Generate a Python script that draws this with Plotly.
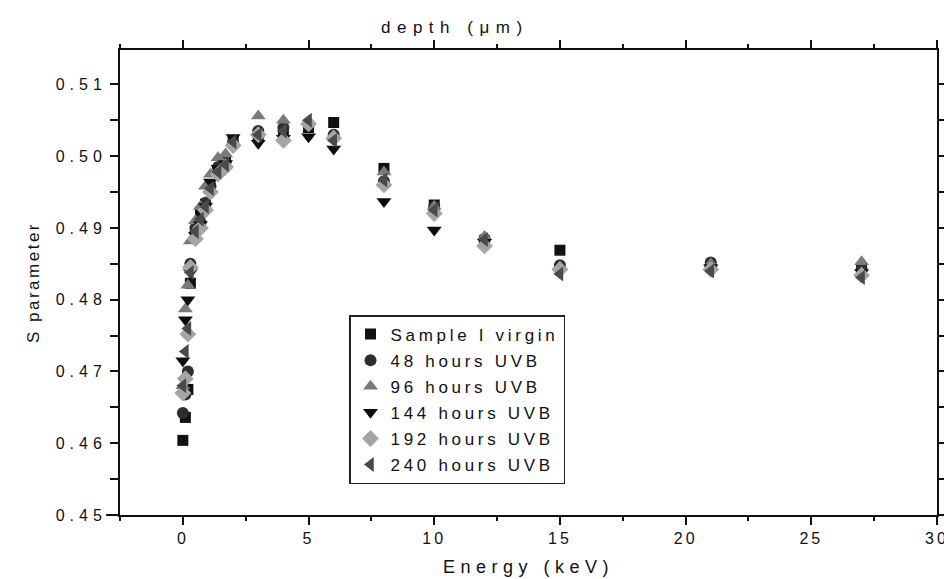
import plotly.graph_objects as go

energy = [0, 0.1, 0.2, 0.3, 0.5, 0.7, 0.9, 1.1, 1.4, 1.7, 2, 3, 4, 5, 6, 8, 10, 12, 15, 21, 27]

s_virgin = [0.4604, 0.4636, 0.4675, 0.4823, 0.4895, 0.4922, 0.4933, 0.4955, 0.4980, 0.4995, 0.5020,
            0.5030, 0.5034, 0.5040, 0.5047, 0.4983, 0.4932, 0.4882, 0.4869, 0.4846, 0.4841]
s_48h = [0.4642, 0.4668, 0.4700, 0.4850, 0.4900, 0.4908, 0.4935, 0.4958, 0.4985, 0.4992, 0.5018,
         0.5035, 0.5040, 0.5045, 0.5030, 0.4965, 0.4930, 0.4885, 0.4848, 0.4852, 0.4842]
s_96h = [0.4680, 0.4787, 0.4820, 0.4882, 0.4910, 0.4930, 0.4958, 0.4975, 0.4998, 0.5003, 0.5020,
         0.5056, 0.5050, 0.5048, 0.5028, 0.4978, 0.4930, 0.4888, 0.4846, 0.4850, 0.4853]
s_144h = [0.4715, 0.4772, 0.4800, 0.4838, 0.4890, 0.4905, 0.4930, 0.4964, 0.4983, 0.4990, 0.5026,
          0.5018, 0.5025, 0.5027, 0.5010, 0.4937, 0.4897, 0.4880, 0.4840, 0.4845, 0.4838]
s_192h = [0.4670, 0.4690, 0.4752, 0.4845, 0.4885, 0.4900, 0.4925, 0.4950, 0.4975, 0.4985, 0.5015,
          0.5030, 0.5022, 0.5045, 0.5025, 0.4960, 0.4920, 0.4875, 0.4842, 0.4842, 0.4834]
s_240h = [0.4680, 0.4728, 0.4760, 0.4838, 0.4895, 0.4912, 0.4930, 0.4955, 0.4978, 0.4988, 0.5020,
          0.5030, 0.5035, 0.5050, 0.5022, 0.4967, 0.4925, 0.4884, 0.4836, 0.4840, 0.4831]

series_names = ["Sample I virgin", "48 hours UVB", "96 hours UVB",
                "144 hours UVB", "192 hours UVB", "240 hours UVB"]
series_values = [s_virgin, s_48h, s_96h, s_144h, s_192h, s_240h]
symbols = ["square", "circle", "triangle-up", "triangle-down", "diamond", "triangle-left"]
colors = ["#111111", "#2e2e2e", "#7a7a7a", "#0d0d0d", "#a5a5a5", "#4a4a4a"]
sizes = [11, 12, 13, 13, 13, 13]

x_ticks = [0, 5, 10, 15, 20, 25, 30]
x_ticklabels = ["0", "5", "10", "15", "20", "25", "30"]
y_ticks = [0.45, 0.46, 0.47, 0.48, 0.49, 0.50, 0.51]
y_ticklabels = ["0.45", "0.46", "0.47", "0.48", "0.49", "0.50", "0.51"]

FONT = "Liberation Sans, Arial, sans-serif"


def spaced(text, px):
    return f'<span style="letter-spacing:{px}px">{text}</span>'


fig = go.Figure()
for name, vals, sym, col, sz in zip(series_names, series_values, symbols, colors, sizes):
    fig.add_trace(go.Scatter(
        x=energy, y=vals, mode="markers", name=spaced(name, 3.7), legendgroup=name,
        marker=dict(symbol=sym, color=col, size=sz, line=dict(width=0)),
    ))

xr = [-2.5, 30]
yr = [0.45, 0.5148]

fig.update_layout(
    width=944, height=571,
    margin=dict(l=112, r=15, t=42, b=64),
    paper_bgcolor="white", plot_bgcolor="white",
    font=dict(family=FONT, size=15, color="#111"),
    showlegend=True,
    legend=dict(
        x=0.2803, y=0.4301, xanchor="left", yanchor="top",
        bgcolor="white", bordercolor="#222", borderwidth=1.5,
        font=dict(family=FONT, size=17, color="#111"),
        itemwidth=30, tracegroupgap=1,
    ),
    xaxis=dict(
        range=xr, tickvals=x_ticks, ticktext=[spaced(t, 3) for t in x_ticklabels],
        ticks="outside", ticklen=8, tickwidth=1.5, ticklabeloverflow="allow",
        tickcolor="#111", showline=True, linecolor="#111", linewidth=2, mirror="ticks",
        showgrid=False, zeroline=False, automargin=False,
        minor=dict(dtick=2.5, tick0=0, ticks="outside", ticklen=4, tickwidth=1.5, tickcolor="#111"),
        tickfont=dict(size=16),
        title=dict(text=spaced("Energy (keV)", 5.5), font=dict(size=18), standoff=14),
    ),
    yaxis=dict(
        range=yr, tickvals=y_ticks, ticktext=[spaced(t, 5) for t in y_ticklabels],
        ticks="outside", ticklen=8, tickwidth=1.5,
        tickcolor="#111", showline=True, linecolor="#111", linewidth=2, mirror="ticks",
        showgrid=False, zeroline=False, automargin=False,
        minor=dict(dtick=0.005, tick0=0.45, ticks="outside", ticklen=8, tickwidth=1.5, tickcolor="#111"),
        tickfont=dict(size=16),
        title=dict(text=spaced("S parameter", 2.5), font=dict(size=17), standoff=12),
    ),
    annotations=[dict(
        text=spaced("depth (μm)", 6.5), xref="paper", yref="paper", x=0.41, y=1.0, yshift=23,
        xanchor="center", yanchor="middle", showarrow=False,
        font=dict(family=FONT, size=17, color="#111"),
    )],
    shapes=[dict(type="line", xref="paper", yref="paper", x0=-0.017, x1=0, y0=0, y1=0,
                 line=dict(color="#111", width=2))],
)

fig.write_html("out.html")
